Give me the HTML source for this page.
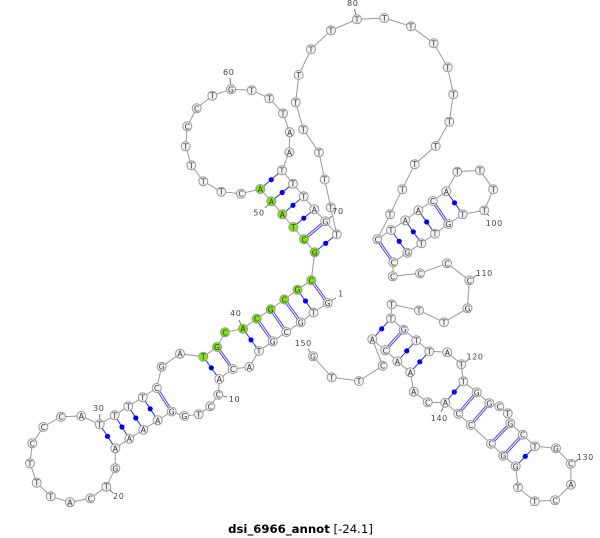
<!DOCTYPE html>
<html><head><meta charset="utf-8"><style>
html,body{margin:0;padding:0;background:#fff}
svg{display:block}
.n circle{fill:#f2f2f2;stroke:#999;stroke-width:1}
.n circle.g{fill:#7fe800}
.n text{font:7.6px "DejaVu Sans","Liberation Sans",sans-serif;fill:#333;text-anchor:middle}
.l text{font:8px "DejaVu Sans","Liberation Sans",sans-serif;fill:#444;text-anchor:middle;letter-spacing:.6px}
</style></head><body>
<svg width="600" height="538" viewBox="0 0 600 538" xmlns="http://www.w3.org/2000/svg">
<polyline fill="none" stroke="#999" stroke-width="1" points="327.7,303 313.5,312.5 300.7,322.3 286.3,332 272.7,341.3 259,351 249.3,367 232.7,369 219.3,379 218.3,394.7 210.3,406.3 198.7,414.3 184.3,416 171.7,411.5 157.7,420.3 143.3,429.7 129.3,438.7 115.3,448.3 115.3,468.3 106.3,486.7 90.3,498.3 70,502.3 50.7,496.3 36.7,482.7 30,463.3 32.3,443.3 43.3,427 61,416.7 81.3,416 99.7,424.3 114.7,415.3 128.3,406.3 142.7,397.3 156.7,388 161.7,366.7 180,353.7 203.3,356.7 217,347 225,332.3 243,328.7 256.7,318.7 270.7,309.3 284.3,299.5 297.5,289.7 311.3,280.3 314.7,252.3 304,239.3 293.3,227 282.3,214.3 271.3,201.3 260.3,189 241,193.7 221.3,191.7 203.3,181.3 191.3,165.3 185.7,146.3 187.3,126.3 196.7,108.3 212.3,95.7 231,89.3 251.7,90.3 269.3,98.3 283,113.3 289.7,132.3 289.3,152.3 282,170.3 293,183.7 303.7,196.3 314.3,209.3 325.3,221.3 336.7,234.3 330.7,207.3 324.7,179.5 319,152.3 303.3,129.3 295.7,102.3 298.7,75 311,49.3 331,30.3 357,19.3 384.3,18 411,26.3 433.7,43.3 447.7,67.3 453.3,94.3 449.3,121.7 435.7,146 414.7,164.2 402.3,189.3 390,214.3 377.3,239.3 391,230 405.3,220.3 418.3,210.3 432.7,201 446.3,191.3 457.3,171.7 480,170.3 493.3,189.3 484.3,210.3 462.7,214.3 448.3,224 435,233.7 421.3,243.3 407.3,252.7 393.3,262.3 392.7,276.3 420,273.3 447,263.3 469.3,280.3 467.5,308.3 444,322.3 419,310.3 391.7,304.3 391,318.3 403.7,329.7 416.3,340.3 429.3,351.3 447.3,352.3 461.3,364.3 463.3,381.3 476.7,392.3 489.3,403.3 499.3,406.3 507.7,413.3 510.3,423.3 522.7,434.7 535,446.3 556,448.3 570.7,463.7 571,484.7 555,500.3 534.7,501.3 518,487.3 515.7,466.3 503.3,455.7 491,443.7 470.7,425 458.3,413.7 445.3,402.7 427.7,402.3 413.7,391.7 410.3,372.3 397.3,361.3 385.3,350.3 372.3,339.3 382.7,365.7 359,381 331.7,377.3 313,356.3"/>
<!-- tick lines -->
<path fill="none" stroke="#777" stroke-width="1" d="M327.7,303L336,298M218.3,394.7L227,397M106.3,486.7L113,493M99.7,424.3L99.7,414M243,328.7L239,320M271.3,201.3L265,208M231,89.3L230,78M325.3,221.3L332,216M357,19.3L354.5,9M484.3,210.3L489,216M469.3,280.3L477,275M461.3,364.3L468,360M570.7,463.7L578,460M445.3,402.7L441,412M313,356.3L308,349"/>
<!-- double pairs -->
<path fill="none" stroke="#4848f0" stroke-width="3" d="M327.7,303L311.3,280.3M300.7,322.3L284.3,299.5M286.3,332L270.7,309.3M272.7,341.3L256.7,318.7M232.7,369L217,347M171.7,411.5L156.7,388M304,239.3L325.3,221.3M377.3,239.3L393.3,262.3M432.7,201L448.3,224M403.7,329.7L385.3,350.3M476.7,392.3L458.3,413.7M489.3,403.3L470.7,425M510.3,423.3L491,443.7M522.7,434.7L503.3,455.7"/>
<path fill="none" stroke="#ffffff" stroke-width="1" d="M327.7,303L311.3,280.3M300.7,322.3L284.3,299.5M286.3,332L270.7,309.3M272.7,341.3L256.7,318.7M232.7,369L217,347M171.7,411.5L156.7,388M304,239.3L325.3,221.3M377.3,239.3L393.3,262.3M432.7,201L448.3,224M403.7,329.7L385.3,350.3M476.7,392.3L458.3,413.7M489.3,403.3L470.7,425M510.3,423.3L491,443.7M522.7,434.7L503.3,455.7"/>
<!-- GU / AU pairs -->
<path fill="none" stroke="#3030ee" stroke-width="1" d="M313.5,312.5L297.5,289.7M259,351L243,328.7M219.3,379L203.3,356.7M157.7,420.3L142.7,397.3M143.3,429.7L128.3,406.3M129.3,438.7L114.7,415.3M115.3,448.3L99.7,424.3M314.7,252.3L336.7,234.3M293.3,227L314.3,209.3M282.3,214.3L303.7,196.3M271.3,201.3L293,183.7M260.3,189L282,170.3M391,230L407.3,252.7M405.3,220.3L421.3,243.3M418.3,210.3L435,233.7M446.3,191.3L462.7,214.3M391,318.3L372.3,339.3M416.3,340.3L397.3,361.3M429.3,351.3L410.3,372.3M463.3,381.3L445.3,402.7M535,446.3L515.7,466.3"/>
<g fill="#0000f0">
<circle cx="305.5" cy="301" r="2.6"/><circle cx="251" cy="339.9" r="2.6"/><circle cx="211.3" cy="367.8" r="2.6"/><circle cx="150.2" cy="408.8" r="2.6"/><circle cx="135.8" cy="418" r="2.6"/><circle cx="122" cy="427" r="2.6"/><circle cx="107.5" cy="436.3" r="2.6"/><circle cx="325.7" cy="243.3" r="2.6"/><circle cx="303.8" cy="218.2" r="2.6"/><circle cx="293" cy="205.3" r="2.6"/><circle cx="282.2" cy="192.5" r="2.6"/><circle cx="271.2" cy="179.7" r="2.6"/><circle cx="399.2" cy="241.3" r="2.6"/><circle cx="413.3" cy="231.8" r="2.6"/><circle cx="426.7" cy="222" r="2.6"/><circle cx="454.5" cy="202.8" r="2.6"/><circle cx="381.7" cy="328.8" r="2.6"/><circle cx="406.8" cy="350.8" r="2.6"/><circle cx="419.8" cy="361.8" r="2.6"/><circle cx="454.3" cy="392" r="2.6"/><circle cx="525.3" cy="456.3" r="2.6"/>
</g>
<g class="n">
<circle cx="327.7" cy="303" r="4.5"/><text x="327.7" y="306">G</text>
<circle cx="313.5" cy="312.5" r="4.5"/><text x="313.5" y="315.5">T</text>
<circle cx="300.7" cy="322.3" r="4.5"/><text x="300.7" y="325.3">G</text>
<circle cx="286.3" cy="332" r="4.5"/><text x="286.3" y="335">C</text>
<circle cx="272.7" cy="341.3" r="4.5"/><text x="272.7" y="344.3">G</text>
<circle cx="259" cy="351" r="4.5"/><text x="259" y="354">T</text>
<circle cx="249.3" cy="367" r="4.5"/><text x="249.3" y="370">A</text>
<circle cx="232.7" cy="369" r="4.5"/><text x="232.7" y="372">C</text>
<circle cx="219.3" cy="379" r="4.5"/><text x="219.3" y="382">A</text>
<circle cx="218.3" cy="394.7" r="4.5"/><text x="218.3" y="397.7">C</text>
<circle cx="210.3" cy="406.3" r="4.5"/><text x="210.3" y="409.3">C</text>
<circle cx="198.7" cy="414.3" r="4.5"/><text x="198.7" y="417.3">T</text>
<circle cx="184.3" cy="416" r="4.5"/><text x="184.3" y="419">G</text>
<circle cx="171.7" cy="411.5" r="4.5"/><text x="171.7" y="414.5">G</text>
<circle cx="157.7" cy="420.3" r="4.5"/><text x="157.7" y="423.3">A</text>
<circle cx="143.3" cy="429.7" r="4.5"/><text x="143.3" y="432.7">A</text>
<circle cx="129.3" cy="438.7" r="4.5"/><text x="129.3" y="441.7">A</text>
<circle cx="115.3" cy="448.3" r="4.5"/><text x="115.3" y="451.3">A</text>
<circle cx="115.3" cy="468.3" r="4.5"/><text x="115.3" y="471.3">G</text>
<circle cx="106.3" cy="486.7" r="4.5"/><text x="106.3" y="489.7">T</text>
<circle cx="90.3" cy="498.3" r="4.5"/><text x="90.3" y="501.3">C</text>
<circle cx="70" cy="502.3" r="4.5"/><text x="70" y="505.3">A</text>
<circle cx="50.7" cy="496.3" r="4.5"/><text x="50.7" y="499.3">T</text>
<circle cx="36.7" cy="482.7" r="4.5"/><text x="36.7" y="485.7">T</text>
<circle cx="30" cy="463.3" r="4.5"/><text x="30" y="466.3">T</text>
<circle cx="32.3" cy="443.3" r="4.5"/><text x="32.3" y="446.3">C</text>
<circle cx="43.3" cy="427" r="4.5"/><text x="43.3" y="430">C</text>
<circle cx="61" cy="416.7" r="4.5"/><text x="61" y="419.7">C</text>
<circle cx="81.3" cy="416" r="4.5"/><text x="81.3" y="419">A</text>
<circle cx="99.7" cy="424.3" r="4.5"/><text x="99.7" y="427.3">T</text>
<circle cx="114.7" cy="415.3" r="4.5"/><text x="114.7" y="418.3">T</text>
<circle cx="128.3" cy="406.3" r="4.5"/><text x="128.3" y="409.3">T</text>
<circle cx="142.7" cy="397.3" r="4.5"/><text x="142.7" y="400.3">T</text>
<circle cx="156.7" cy="388" r="4.5"/><text x="156.7" y="391">C</text>
<circle cx="161.7" cy="366.7" r="4.5"/><text x="161.7" y="369.7">G</text>
<circle cx="180" cy="353.7" r="4.5"/><text x="180" y="356.7">A</text>
<circle class="g" cx="203.3" cy="356.7" r="4.5"/><text x="203.3" y="359.7">T</text>
<circle class="g" cx="217" cy="347" r="4.5"/><text x="217" y="350">G</text>
<circle class="g" cx="225" cy="332.3" r="4.5"/><text x="225" y="335.3">C</text>
<circle class="g" cx="243" cy="328.7" r="4.5"/><text x="243" y="331.7">A</text>
<circle class="g" cx="256.7" cy="318.7" r="4.5"/><text x="256.7" y="321.7">C</text>
<circle class="g" cx="270.7" cy="309.3" r="4.5"/><text x="270.7" y="312.3">G</text>
<circle class="g" cx="284.3" cy="299.5" r="4.5"/><text x="284.3" y="302.5">C</text>
<circle class="g" cx="297.5" cy="289.7" r="4.5"/><text x="297.5" y="292.7">G</text>
<circle class="g" cx="311.3" cy="280.3" r="4.5"/><text x="311.3" y="283.3">C</text>
<circle class="g" cx="314.7" cy="252.3" r="4.5"/><text x="314.7" y="255.3">G</text>
<circle class="g" cx="304" cy="239.3" r="4.5"/><text x="304" y="242.3">C</text>
<circle class="g" cx="293.3" cy="227" r="4.5"/><text x="293.3" y="230">T</text>
<circle class="g" cx="282.3" cy="214.3" r="4.5"/><text x="282.3" y="217.3">A</text>
<circle class="g" cx="271.3" cy="201.3" r="4.5"/><text x="271.3" y="204.3">A</text>
<circle class="g" cx="260.3" cy="189" r="4.5"/><text x="260.3" y="192">A</text>
<circle cx="241" cy="193.7" r="4.5"/><text x="241" y="196.7">C</text>
<circle cx="221.3" cy="191.7" r="4.5"/><text x="221.3" y="194.7">T</text>
<circle cx="203.3" cy="181.3" r="4.5"/><text x="203.3" y="184.3">T</text>
<circle cx="191.3" cy="165.3" r="4.5"/><text x="191.3" y="168.3">T</text>
<circle cx="185.7" cy="146.3" r="4.5"/><text x="185.7" y="149.3">T</text>
<circle cx="187.3" cy="126.3" r="4.5"/><text x="187.3" y="129.3">C</text>
<circle cx="196.7" cy="108.3" r="4.5"/><text x="196.7" y="111.3">C</text>
<circle cx="212.3" cy="95.7" r="4.5"/><text x="212.3" y="98.7">T</text>
<circle cx="231" cy="89.3" r="4.5"/><text x="231" y="92.3">G</text>
<circle cx="251.7" cy="90.3" r="4.5"/><text x="251.7" y="93.3">T</text>
<circle cx="269.3" cy="98.3" r="4.5"/><text x="269.3" y="101.3">T</text>
<circle cx="283" cy="113.3" r="4.5"/><text x="283" y="116.3">T</text>
<circle cx="289.7" cy="132.3" r="4.5"/><text x="289.7" y="135.3">A</text>
<circle cx="289.3" cy="152.3" r="4.5"/><text x="289.3" y="155.3">A</text>
<circle cx="282" cy="170.3" r="4.5"/><text x="282" y="173.3">T</text>
<circle cx="293" cy="183.7" r="4.5"/><text x="293" y="186.7">T</text>
<circle cx="303.7" cy="196.3" r="4.5"/><text x="303.7" y="199.3">T</text>
<circle cx="314.3" cy="209.3" r="4.5"/><text x="314.3" y="212.3">A</text>
<circle cx="325.3" cy="221.3" r="4.5"/><text x="325.3" y="224.3">G</text>
<circle cx="336.7" cy="234.3" r="4.5"/><text x="336.7" y="237.3">T</text>
<circle cx="330.7" cy="207.3" r="4.5"/><text x="330.7" y="210.3">T</text>
<circle cx="324.7" cy="179.5" r="4.5"/><text x="324.7" y="182.5">T</text>
<circle cx="319" cy="152.3" r="4.5"/><text x="319" y="155.3">T</text>
<circle cx="303.3" cy="129.3" r="4.5"/><text x="303.3" y="132.3">T</text>
<circle cx="295.7" cy="102.3" r="4.5"/><text x="295.7" y="105.3">T</text>
<circle cx="298.7" cy="75" r="4.5"/><text x="298.7" y="78">T</text>
<circle cx="311" cy="49.3" r="4.5"/><text x="311" y="52.3">T</text>
<circle cx="331" cy="30.3" r="4.5"/><text x="331" y="33.3">T</text>
<circle cx="357" cy="19.3" r="4.5"/><text x="357" y="22.3">T</text>
<circle cx="384.3" cy="18" r="4.5"/><text x="384.3" y="21">T</text>
<circle cx="411" cy="26.3" r="4.5"/><text x="411" y="29.3">T</text>
<circle cx="433.7" cy="43.3" r="4.5"/><text x="433.7" y="46.3">T</text>
<circle cx="447.7" cy="67.3" r="4.5"/><text x="447.7" y="70.3">T</text>
<circle cx="453.3" cy="94.3" r="4.5"/><text x="453.3" y="97.3">T</text>
<circle cx="449.3" cy="121.7" r="4.5"/><text x="449.3" y="124.7">T</text>
<circle cx="435.7" cy="146" r="4.5"/><text x="435.7" y="149">T</text>
<circle cx="414.7" cy="164.2" r="4.5"/><text x="414.7" y="167.2">T</text>
<circle cx="402.3" cy="189.3" r="4.5"/><text x="402.3" y="192.3">T</text>
<circle cx="390" cy="214.3" r="4.5"/><text x="390" y="217.3">T</text>
<circle cx="377.3" cy="239.3" r="4.5"/><text x="377.3" y="242.3">C</text>
<circle cx="391" cy="230" r="4.5"/><text x="391" y="233">T</text>
<circle cx="405.3" cy="220.3" r="4.5"/><text x="405.3" y="223.3">A</text>
<circle cx="418.3" cy="210.3" r="4.5"/><text x="418.3" y="213.3">A</text>
<circle cx="432.7" cy="201" r="4.5"/><text x="432.7" y="204">C</text>
<circle cx="446.3" cy="191.3" r="4.5"/><text x="446.3" y="194.3">A</text>
<circle cx="457.3" cy="171.7" r="4.5"/><text x="457.3" y="174.7">T</text>
<circle cx="480" cy="170.3" r="4.5"/><text x="480" y="173.3">T</text>
<circle cx="493.3" cy="189.3" r="4.5"/><text x="493.3" y="192.3">T</text>
<circle cx="484.3" cy="210.3" r="4.5"/><text x="484.3" y="213.3">T</text>
<circle cx="462.7" cy="214.3" r="4.5"/><text x="462.7" y="217.3">T</text>
<circle cx="448.3" cy="224" r="4.5"/><text x="448.3" y="227">G</text>
<circle cx="435" cy="233.7" r="4.5"/><text x="435" y="236.7">T</text>
<circle cx="421.3" cy="243.3" r="4.5"/><text x="421.3" y="246.3">T</text>
<circle cx="407.3" cy="252.7" r="4.5"/><text x="407.3" y="255.7">G</text>
<circle cx="393.3" cy="262.3" r="4.5"/><text x="393.3" y="265.3">C</text>
<circle cx="392.7" cy="276.3" r="4.5"/><text x="392.7" y="279.3">C</text>
<circle cx="420" cy="273.3" r="4.5"/><text x="420" y="276.3">C</text>
<circle cx="447" cy="263.3" r="4.5"/><text x="447" y="266.3">C</text>
<circle cx="469.3" cy="280.3" r="4.5"/><text x="469.3" y="283.3">C</text>
<circle cx="467.5" cy="308.3" r="4.5"/><text x="467.5" y="311.3">G</text>
<circle cx="444" cy="322.3" r="4.5"/><text x="444" y="325.3">T</text>
<circle cx="419" cy="310.3" r="4.5"/><text x="419" y="313.3">T</text>
<circle cx="391.7" cy="304.3" r="4.5"/><text x="391.7" y="307.3">T</text>
<circle cx="391" cy="318.3" r="4.5"/><text x="391" y="321.3">T</text>
<circle cx="403.7" cy="329.7" r="4.5"/><text x="403.7" y="332.7">G</text>
<circle cx="416.3" cy="340.3" r="4.5"/><text x="416.3" y="343.3">T</text>
<circle cx="429.3" cy="351.3" r="4.5"/><text x="429.3" y="354.3">T</text>
<circle cx="447.3" cy="352.3" r="4.5"/><text x="447.3" y="355.3">A</text>
<circle cx="461.3" cy="364.3" r="4.5"/><text x="461.3" y="367.3">T</text>
<circle cx="463.3" cy="381.3" r="4.5"/><text x="463.3" y="384.3">T</text>
<circle cx="476.7" cy="392.3" r="4.5"/><text x="476.7" y="395.3">G</text>
<circle cx="489.3" cy="403.3" r="4.5"/><text x="489.3" y="406.3">G</text>
<circle cx="499.3" cy="406.3" r="4.5"/><text x="499.3" y="409.3">C</text>
<circle cx="507.7" cy="413.3" r="4.5"/><text x="507.7" y="416.3">T</text>
<circle cx="510.3" cy="423.3" r="4.5"/><text x="510.3" y="426.3">G</text>
<circle cx="522.7" cy="434.7" r="4.5"/><text x="522.7" y="437.7">C</text>
<circle cx="535" cy="446.3" r="4.5"/><text x="535" y="449.3">T</text>
<circle cx="556" cy="448.3" r="4.5"/><text x="556" y="451.3">G</text>
<circle cx="570.7" cy="463.7" r="4.5"/><text x="570.7" y="466.7">C</text>
<circle cx="571" cy="484.7" r="4.5"/><text x="571" y="487.7">A</text>
<circle cx="555" cy="500.3" r="4.5"/><text x="555" y="503.3">C</text>
<circle cx="534.7" cy="501.3" r="4.5"/><text x="534.7" y="504.3">T</text>
<circle cx="518" cy="487.3" r="4.5"/><text x="518" y="490.3">T</text>
<circle cx="515.7" cy="466.3" r="4.5"/><text x="515.7" y="469.3">G</text>
<circle cx="503.3" cy="455.7" r="4.5"/><text x="503.3" y="458.7">G</text>
<circle cx="491" cy="443.7" r="4.5"/><text x="491" y="446.7">C</text>
<circle cx="470.7" cy="425" r="4.5"/><text x="470.7" y="428">C</text>
<circle cx="458.3" cy="413.7" r="4.5"/><text x="458.3" y="416.7">C</text>
<circle cx="445.3" cy="402.7" r="4.5"/><text x="445.3" y="405.7">A</text>
<circle cx="427.7" cy="402.3" r="4.5"/><text x="427.7" y="405.3">C</text>
<circle cx="413.7" cy="391.7" r="4.5"/><text x="413.7" y="394.7">A</text>
<circle cx="410.3" cy="372.3" r="4.5"/><text x="410.3" y="375.3">A</text>
<circle cx="397.3" cy="361.3" r="4.5"/><text x="397.3" y="364.3">A</text>
<circle cx="385.3" cy="350.3" r="4.5"/><text x="385.3" y="353.3">C</text>
<circle cx="372.3" cy="339.3" r="4.5"/><text x="372.3" y="342.3">A</text>
<circle cx="382.7" cy="365.7" r="4.5"/><text x="382.7" y="368.7">C</text>
<circle cx="359" cy="381" r="4.5"/><text x="359" y="384">T</text>
<circle cx="331.7" cy="377.3" r="4.5"/><text x="331.7" y="380.3">T</text>
<circle cx="313" cy="356.3" r="4.5"/><text x="313" y="359.3">G</text>
</g>
<g class="l">
<text x="341" y="296.5">1</text>
<text x="234.5" y="402">10</text>
<text x="118.7" y="499">20</text>
<text x="98.7" y="411">30</text>
<text x="235.7" y="316">40</text>
<text x="259" y="215.5">50</text>
<text x="228.7" y="75">60</text>
<text x="338" y="214">70</text>
<text x="352.7" y="6">80</text>
<text x="494.3" y="226">100</text>
<text x="484.3" y="276">110</text>
<text x="475" y="359.5">120</text>
<text x="585.3" y="460">130</text>
<text x="439.3" y="421">140</text>
<text x="303.3" y="346">150</text>
</g>
<text x="300.5" y="533" text-anchor="middle" style="font:11.7px 'DejaVu Sans','Liberation Sans',sans-serif;fill:#000"><tspan font-weight="bold">dsi_6966_annot</tspan> [-24.1]</text>
</svg>
</body></html>
